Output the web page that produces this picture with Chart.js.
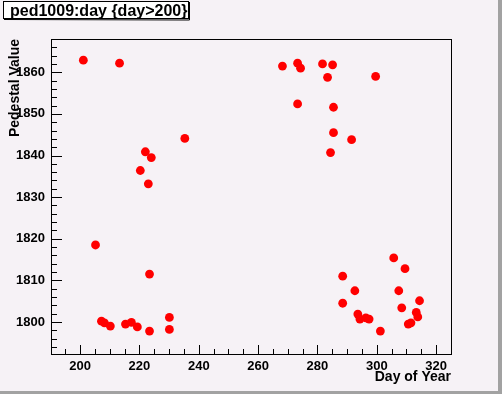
<!DOCTYPE html>
<html><head><meta charset="utf-8">
<script src="https://cdn.jsdelivr.net/npm/chart.js@4/dist/chart.umd.min.js"></script>
<style>html,body{margin:0;padding:0;background:#f6f2f6;overflow:hidden}canvas{display:block}</style>
</head><body><canvas id="c" width="502" height="394"></canvas>
<script>
// ---- data ----
const days = [201.1, 213.3, 235.3, 222.0, 224.0, 220.3, 223.0, 205.2, 223.4, 207.2, 208.2, 210.2, 215.3, 217.3, 219.3, 223.4, 230.1, 230.1,
  268.2, 273.3, 274.3, 281.7, 285.1, 283.4, 299.6, 273.3, 285.4, 285.4, 291.5, 284.4,
  305.7, 309.5, 288.5, 292.6, 307.4, 314.4, 288.5, 308.4, 313.3, 293.6, 313.8, 294.3, 296.3, 297.4, 310.6, 311.5, 301.2];
const pedestals = [1862.9, 1862.2, 1844.1, 1840.9, 1839.5, 1836.4, 1833.2, 1818.5, 1811.5, 1800.2, 1799.8, 1799.0, 1799.5, 1799.9, 1798.8, 1797.8, 1801.1, 1798.2,
  1861.5, 1862.2, 1861.0, 1862.0, 1861.8, 1858.8, 1859.0, 1852.4, 1851.6, 1845.5, 1843.8, 1840.7,
  1815.4, 1812.8, 1811.0, 1807.5, 1807.5, 1805.1, 1804.5, 1803.4, 1802.3, 1801.9, 1801.2, 1800.7, 1801.0, 1800.7, 1799.5, 1799.8, 1797.8];
const xTickLabels = [200, 220, 240, 260, 280, 300, 320];
const yTickLabels = [1800, 1810, 1820, 1830, 1840, 1850, 1860];
const chartTitle = 'ped1009:day {day>200}';
const xTitle = 'Day of Year';
const yTitle = 'Pedestal Value';

const FONT = {family: '"Liberation Sans", Arial, sans-serif', size: 13, weight: 'bold'};
const TFONT = {family: '"Liberation Sans", Arial, sans-serif', size: 14, weight: 'bold'};

const rootStyle = {
  id: 'rootStyle',
  beforeDraw(chart) {
    const ctx = chart.ctx;
    ctx.save();
    ctx.fillStyle = '#f6f2f6';
    ctx.fillRect(0, 0, chart.width, chart.height);
    ctx.restore();
  },
  beforeDatasetsDraw(chart) {
    const ctx = chart.ctx, a = chart.chartArea;
    const xs = chart.scales.x, ys = chart.scales.y;
    ctx.save();
    ctx.strokeStyle = '#000';
    ctx.lineWidth = 1;
    ctx.strokeRect(Math.round(a.left) + 0.5, Math.round(a.top) + 0.5, Math.round(a.right - a.left), Math.round(a.bottom - a.top));
    ctx.beginPath();
    // x ticks (inward from bottom)
    for (let v = Math.ceil(xs.min / 5) * 5; v <= xs.max; v += 5) {
      const px = Math.round(xs.getPixelForValue(v)) + 0.5;
      const len = (v % 20 === 0) ? 9 : 5;
      ctx.moveTo(px, a.bottom);
      ctx.lineTo(px, a.bottom - len);
    }
    // y ticks (inward from left)
    for (let v = Math.ceil(ys.min / 2) * 2; v <= ys.max; v += 2) {
      const py = Math.round(ys.getPixelForValue(v)) + 0.5;
      const len = (v % 10 === 0) ? 11 : 6;
      ctx.moveTo(a.left, py);
      ctx.lineTo(a.left + len, py);
    }
    ctx.stroke();
    ctx.restore();
  },
  afterDraw(chart) {
    const ctx = chart.ctx;
    ctx.save();
    // canvas bevel
    ctx.fillStyle = '#a2a2a2';
    ctx.fillRect(chart.width - 4, 0, 4, chart.height);
    ctx.fillRect(0, chart.height - 3, chart.width, 3);
    // title box
    ctx.fillStyle = '#ffffff';
    ctx.fillRect(3, 1, 186, 18);
    ctx.strokeStyle = '#000';
    ctx.lineWidth = 1;
    ctx.strokeRect(3.5, 1.5, 185, 17);
    ctx.beginPath();
    ctx.moveTo(189.5, 2); ctx.lineTo(189.5, 20); ctx.lineTo(4, 19.5);
    ctx.stroke();
    ctx.fillStyle = '#000';
    ctx.font = 'bold 16px "Liberation Sans", Arial, sans-serif';
    ctx.textBaseline = 'alphabetic';
    ctx.textAlign = 'left';
    ctx.fillText(chartTitle, 10, 15.5);
    ctx.restore();
  }
};

new Chart(document.getElementById('c'), {
  type: 'scatter',
  data: {
    datasets: [{
      data: days.map((d, i) => ({x: d, y: pedestals[i]})),
      backgroundColor: '#ff0000',
      borderColor: '#ff0000',
      pointRadius: 4.4,
      pointBorderWidth: 0,
      pointHoverRadius: 4.4
    }]
  },
  options: {
    responsive: false,
    animation: false,
    events: [],
    layout: {padding: {top: 39, right: 51, bottom: 0, left: 0}},
    plugins: {legend: {display: false}, tooltip: {enabled: false}, title: {display: false}},
    scales: {
      x: {
        type: 'linear', min: 190.2, max: 325,
        afterFit(s) { s.height = 40; },
        afterBuildTicks(s) { s.ticks = xTickLabels.map(v => ({value: v})); },
        grid: {display: false, drawTicks: false},
        border: {display: false},
        ticks: {font: FONT, color: '#000', padding: 5, maxRotation: 0, autoSkip: false, callback: v => String(v)},
        title: {display: true, text: xTitle, align: 'end', font: TFONT, color: '#000', padding: {top: 0, bottom: 8}}
      },
      y: {
        type: 'linear', min: 1792.3, max: 1868,
        afterFit(s) { s.width = 51; },
        afterBuildTicks(s) { s.ticks = yTickLabels.map(v => ({value: v})); },
        grid: {display: false, drawTicks: false},
        border: {display: false},
        ticks: {font: FONT, color: '#000', padding: 6, autoSkip: false, callback: v => String(v)},
        title: {display: true, text: yTitle, align: 'end', font: TFONT, color: '#000', padding: {top: 7, bottom: 0}}
      }
    }
  },
  plugins: [rootStyle]
});
</script>
</body></html>
